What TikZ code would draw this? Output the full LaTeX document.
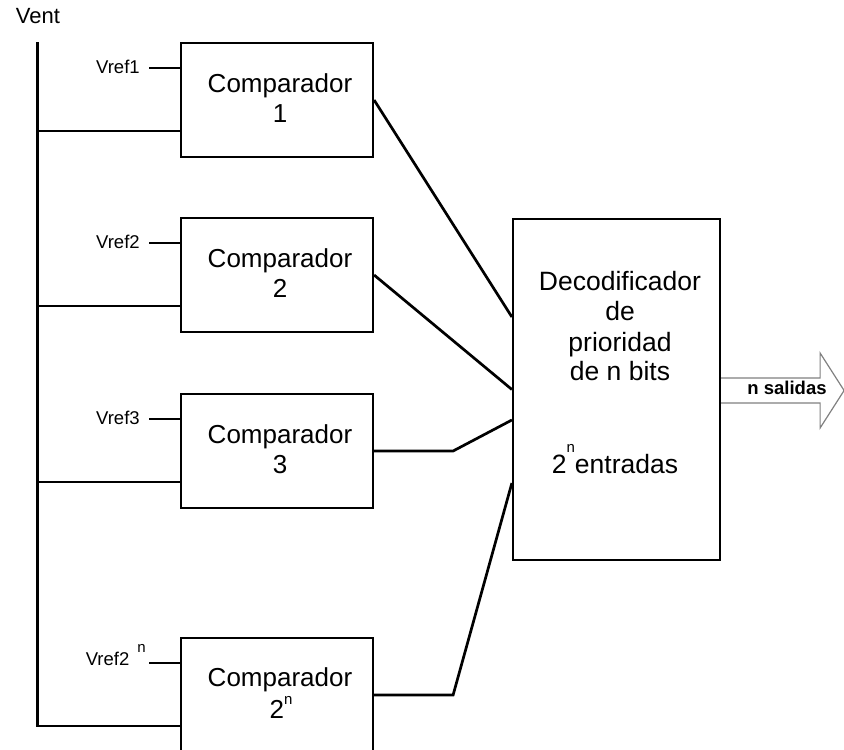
\documentclass[tikz,border=0pt]{standalone}
\usepackage{fontspec}
\setmainfont{Liberation Sans}
\newcommand{\upn}[1]{\raisebox{#1}[0pt][0pt]{\fontsize{15}{15}\selectfont n}}
\begin{document}
\begin{tikzpicture}[x=1pt,y=-1pt,
  box/.style={draw, line width=2.2pt, minimum width=192pt, minimum height=114pt, inner sep=0pt},
  decbox/.style={draw, line width=2.2pt, minimum width=207pt, minimum height=341pt, inner sep=0pt},
  wire/.style={line width=2.7pt},
  bus/.style={line width=3pt},
  lbl/.style={anchor=base, inner sep=0pt},
  comp/.style={lbl, font=\fontsize{26}{26}\selectfont},
  dectxt/.style={lbl, font=\fontsize{26.5}{26.5}\selectfont},
  vref/.style={anchor=base east, inner sep=0pt, font=\fontsize{18.5}{18.5}\selectfont},
  outarrow/.style={draw=gray, line width=1.2pt, line join=miter},
  outtxt/.style={lbl, font=\bfseries\fontsize{18.5}{18.5}\selectfont}
]
\clip (0,0) rectangle (844,750);

% input label and common bus
\node[lbl, font=\fontsize{22}{22}\selectfont] (vent) at (38,23.5) {Vent};
\coordinate (bustop) at (37,42);
\coordinate (busbot) at (37,727);
\draw[bus] (bustop) -- (busbot);

% comparator blocks
\node[box] (c1) at (277,100) {};
\node[box] (c2) at (277,275) {};
\node[box] (c3) at (277,451) {};
\node[box] (c4) at (277,695) {};

\node[comp] (c1a) at (280,92) {Comparador};
\node[comp] (c1b) at (280,122) {1};
\node[comp] (c2a) at (280,267) {Comparador};
\node[comp] (c2b) at (280,297) {2};
\node[comp] (c3a) at (280,443) {Comparador};
\node[comp] (c3b) at (280,473) {3};
\node[comp] (c4a) at (280,686) {Comparador};
\node[comp] (c4b) at (281,718) {2\upn{14pt}};

% bus taps and reference inputs
\foreach \i in {1,2,3,4} {
  \coordinate (t\i) at ([yshift=-89pt]c\i.north west);
  \draw[wire] (t\i) -- (t\i -| bustop);
  \coordinate (r\i) at ([yshift=-26pt]c\i.north west);
  \draw[wire] (r\i) -- ++(-31,0) coordinate (re\i);
}
\node[vref] (vr1) at ([xshift=-9pt,yshift=-6pt]re1) {Vref1};
\node[vref] (vr2) at ([xshift=-9pt,yshift=-6pt]re2) {Vref2};
\node[vref] (vr3) at ([xshift=-9pt,yshift=-6pt]re3) {Vref3};
\node[vref] (vr4) at ([xshift=-3pt,yshift=-3pt]re4) {Vref2\hspace{8pt}\upn{13pt}};

% priority decoder
\node[decbox] (dec) at (616.5,389.5) {};
\node[dectxt] (d1) at (620,290) {Decodificador};
\node[dectxt] (d2) at (620,320) {de};
\node[dectxt] (d3) at (620,351) {prioridad};
\node[dectxt] (d4) at (620,380) {de n bits};
\node[dectxt] (d5) at (615,473) {2\upn{21pt}entradas};

% comparator outputs into the decoder
\draw[wire] (c1.east) -- ([yshift=72.5pt]dec.west);
\draw[wire] (c2.east) -- (dec.west);
\draw[wire] (c3.east) -- ++(79,0) -- ([yshift=-30.5pt]dec.west);
\draw[wire] (c4.east) -- ++(79,0) -- ([yshift=-93.5pt]dec.west);

% output bus arrow
\draw[outarrow] ([yshift=11.5pt]dec.east) -- ++(99,0) -- ++(0,-25) -- ++(24,37.5)
  -- ++(-24,37.5) -- ++(0,-25) -- ++(-99,0);
\node[outtxt] (out) at (787,394) {n salidas};
\end{tikzpicture}
\end{document}
